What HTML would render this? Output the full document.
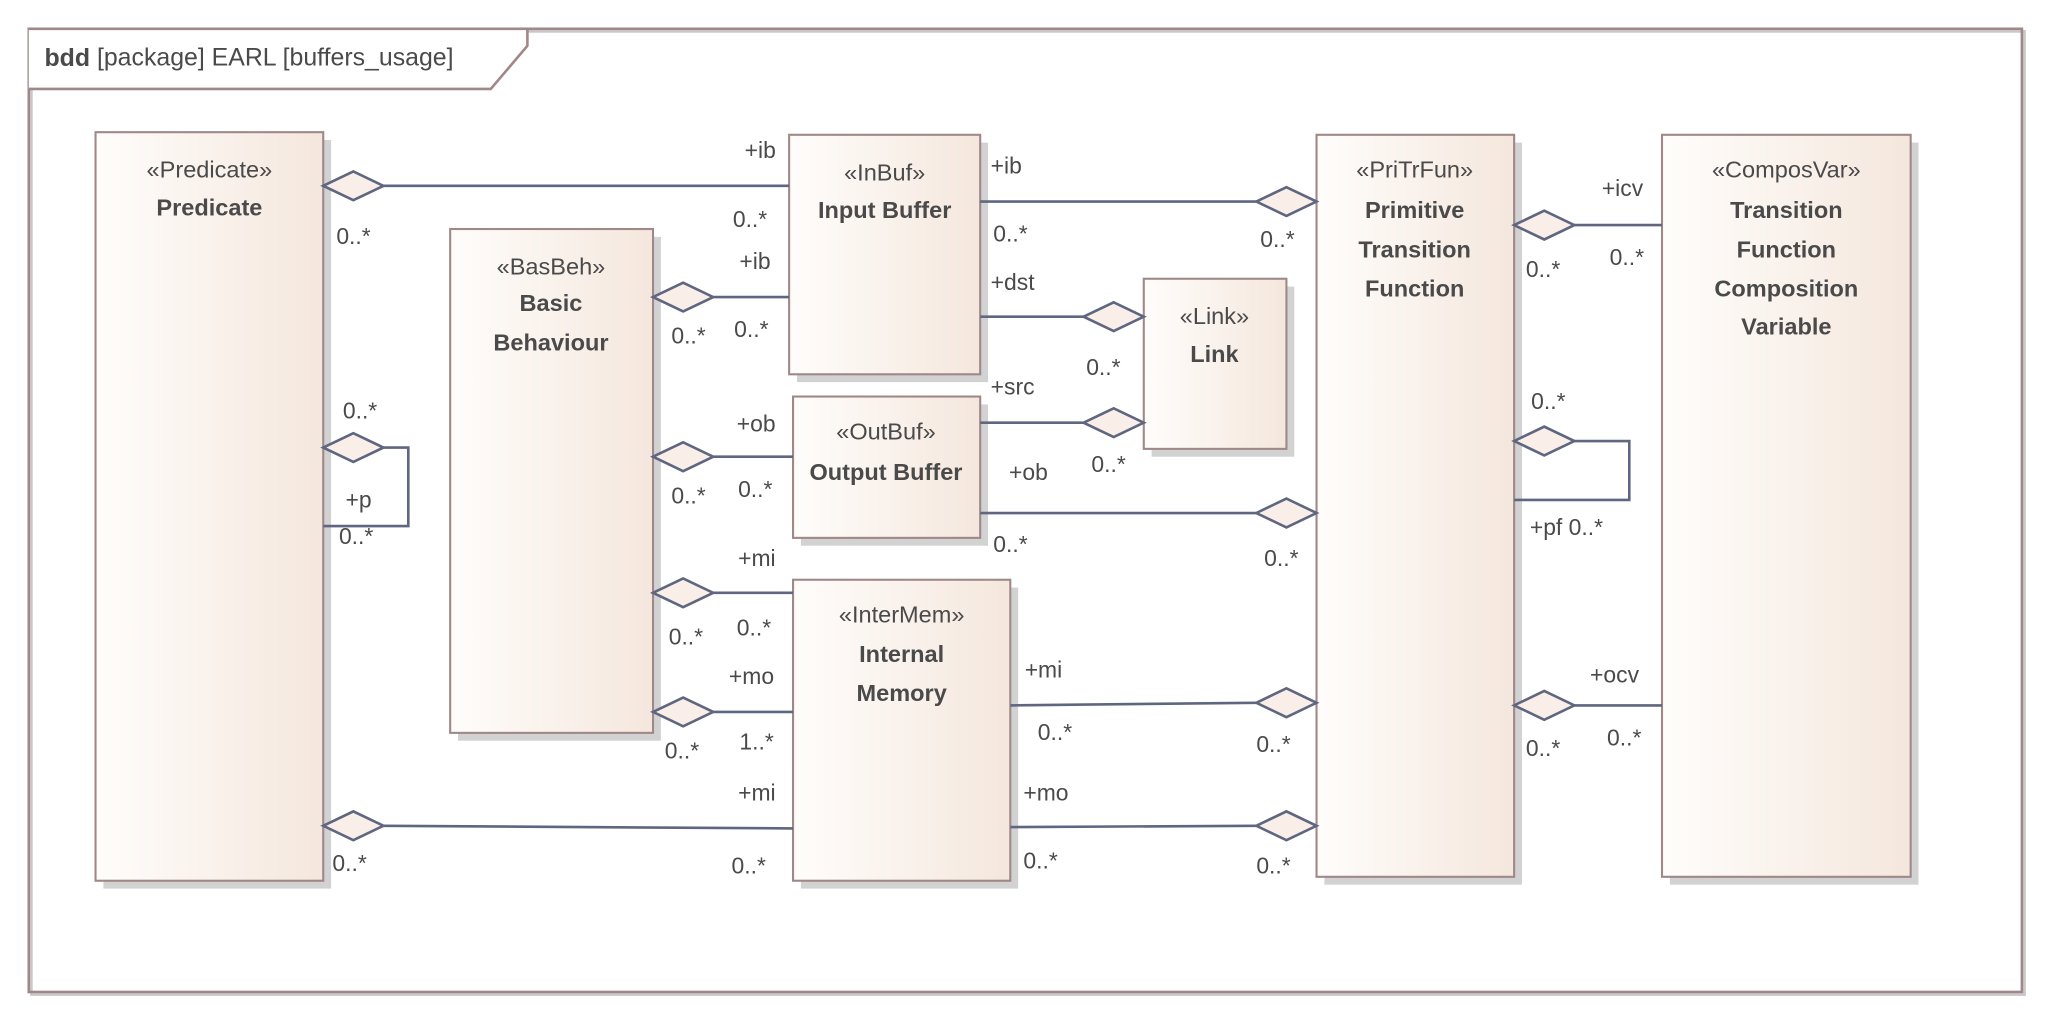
<!DOCTYPE html>
<html><head><meta charset="utf-8"><style>
html,body{margin:0;padding:0;background:#fff;}
svg{display:block}
text{font-family:"Liberation Sans",sans-serif;fill:#4a4a4a;}
.l{font-size:17.5px;dominant-baseline:middle}
.s{font-size:18px;text-anchor:middle;dominant-baseline:middle}
.n{font-size:18px;font-weight:bold;text-anchor:middle;dominant-baseline:middle}
.ln{stroke:#5f6680;stroke-width:2;fill:none}
.d{fill:#faefe8;stroke:#5f6680;stroke-width:2}
.b{fill:url(#g);stroke:#a08888;stroke-width:1.6}
.sh{fill:#d2d2d2}
</style></head><body>
<svg width="2052" height="1023" viewBox="0 0 1568 781.7" xmlns="http://www.w3.org/2000/svg">
<defs><linearGradient id="g" x1="0" x2="1" y1="0" y2="0"><stop offset="0" stop-color="#fffdfb"/><stop offset="1" stop-color="#f4e7dd"/></linearGradient></defs>
<rect x="0" y="0" width="1568" height="782" fill="#fff"/>
<rect x="24" y="24" width="1523" height="736" fill="none" stroke="#c8c8c8" stroke-width="2"/>
<rect x="22" y="22" width="1523" height="736" fill="none" stroke="#a08888" stroke-width="2"/>
<path d="M22 22 H403 V35 L375 68 H22" fill="#fff" stroke="#a08888" stroke-width="2"/>
<text x="34" y="45" style="font-size:19px;dominant-baseline:middle"><tspan font-weight="bold">bdd</tspan> [package] EARL [buffers_usage]</text>

<rect class="sh" x="79" y="107" width="174" height="572"/>
<rect class="sh" x="350" y="181" width="155" height="385"/>
<rect class="sh" x="609" y="109" width="146" height="183"/>
<rect class="sh" x="612" y="309" width="143" height="108"/>
<rect class="sh" x="612" y="449" width="166" height="230"/>
<rect class="sh" x="880" y="219" width="109" height="130"/>
<rect class="sh" x="1012" y="109" width="151" height="567"/>
<rect class="sh" x="1276" y="109" width="190" height="567"/>

<rect class="b" x="73" y="101" width="174" height="572"/>
<text class="s" x="160" y="131">«Predicate»</text><text class="n" x="160" y="160">Predicate</text>
<rect class="b" x="344" y="175" width="155" height="385"/>
<text class="s" x="421" y="205">«BasBeh»</text><text class="n" x="421" y="233">Basic</text><text class="n" x="421" y="263">Behaviour</text>
<rect class="b" x="603" y="103" width="146" height="183"/>
<text class="s" x="676" y="133">«InBuf»</text><text class="n" x="676" y="162">Input Buffer</text>
<rect class="b" x="606" y="303" width="143" height="108"/>
<text class="s" x="677" y="331">«OutBuf»</text><text class="n" x="677" y="362">Output Buffer</text>
<rect class="b" x="606" y="443" width="166" height="230"/>
<text class="s" x="689" y="471">«InterMem»</text><text class="n" x="689" y="501">Internal</text><text class="n" x="689" y="531">Memory</text>
<rect class="b" x="874" y="213" width="109" height="130"/>
<text class="s" x="928" y="243">«Link»</text><text class="n" x="928" y="272">Link</text>
<rect class="b" x="1006" y="103" width="151" height="567"/>
<text class="s" x="1081" y="131">«PriTrFun»</text><text class="n" x="1081" y="162">Primitive</text><text class="n" x="1081" y="192">Transition</text><text class="n" x="1081" y="222">Function</text>
<rect class="b" x="1270" y="103" width="190" height="567"/>
<text class="s" x="1365" y="131">«ComposVar»</text><text class="n" x="1365" y="162">Transition</text><text class="n" x="1365" y="192">Function</text><text class="n" x="1365" y="222">Composition</text><text class="n" x="1365" y="251">Variable</text>

<path class="ln" d="M293 142 H603"/><path class="d" d="M247 142 L270 131 L293 142 L270 153Z"/>
<path class="ln" d="M545 227 H603"/><path class="d" d="M499 227 L522 216 L545 227 L522 238Z"/>
<path class="ln" d="M749 154 H960"/><path class="d" d="M960 154 L983 143 L1006 154 L983 165Z"/>
<path class="ln" d="M749 242 H828"/><path class="d" d="M828 242 L851 231 L874 242 L851 253Z"/>
<path class="ln" d="M749 323 H828"/><path class="d" d="M828 323 L851 312 L874 323 L851 334Z"/>
<path class="ln" d="M293 342 H312 V402 H247"/><path class="d" d="M247 342 L270 331 L293 342 L270 353Z"/>
<path class="ln" d="M545 349 H606"/><path class="d" d="M499 349 L522 338 L545 349 L522 360Z"/>
<path class="ln" d="M749 392 H960"/><path class="d" d="M960 392 L983 381 L1006 392 L983 403Z"/>
<path class="ln" d="M545 453 H606"/><path class="d" d="M499 453 L522 442 L545 453 L522 464Z"/>
<path class="ln" d="M545 544 H606"/><path class="d" d="M499 544 L522 533 L545 544 L522 555Z"/>
<path class="ln" d="M293 631 L606 633"/><path class="d" d="M247 631 L270 620 L293 631 L270 642Z"/>
<path class="ln" d="M772 539 L960 537"/><path class="d" d="M960 537 L983 526 L1006 537 L983 548Z"/>
<path class="ln" d="M772 632 L960 631"/><path class="d" d="M960 631 L983 620 L1006 631 L983 642Z"/>
<path class="ln" d="M1203 172 H1270"/><path class="d" d="M1157 172 L1180 161 L1203 172 L1180 183Z"/>
<path class="ln" d="M1203 337 H1245 V382 H1157"/><path class="d" d="M1157 337 L1180 326 L1203 337 L1180 348Z"/>
<path class="ln" d="M1203 539 H1270"/><path class="d" d="M1157 539 L1180 528 L1203 539 L1180 550Z"/>

<text class="l" x="569" y="116">+ib</text><text class="l" x="560" y="169">0..*</text><text class="l" x="257" y="182">0..*</text>
<text class="l" x="565" y="201">+ib</text><text class="l" x="513" y="258">0..*</text><text class="l" x="561" y="253">0..*</text>
<text class="l" x="757" y="128">+ib</text><text class="l" x="759" y="180">0..*</text><text class="l" x="963" y="184">0..*</text>
<text class="l" x="757" y="217">+dst</text><text class="l" x="830" y="282">0..*</text>
<text class="l" x="757" y="297">+src</text><text class="l" x="834" y="356">0..*</text>
<text class="l" x="262" y="315">0..*</text><text class="l" x="264" y="383">+p</text><text class="l" x="259" y="411">0..*</text>
<text class="l" x="563" y="325">+ob</text><text class="l" x="513" y="380">0..*</text><text class="l" x="564" y="375">0..*</text>
<text class="l" x="771" y="362">+ob</text><text class="l" x="759" y="417">0..*</text><text class="l" x="966" y="428">0..*</text>
<text class="l" x="564" y="428">+mi</text><text class="l" x="511" y="488">0..*</text><text class="l" x="563" y="481">0..*</text>
<text class="l" x="557" y="518">+mo</text><text class="l" x="508" y="575">0..*</text><text class="l" x="565" y="568">1..*</text>
<text class="l" x="564" y="607">+mi</text><text class="l" x="254" y="661">0..*</text><text class="l" x="559" y="663">0..*</text>
<text class="l" x="783" y="513">+mi</text><text class="l" x="793" y="561">0..*</text><text class="l" x="960" y="570">0..*</text>
<text class="l" x="782" y="607">+mo</text><text class="l" x="782" y="659">0..*</text><text class="l" x="960" y="663">0..*</text>
<text class="l" x="1224" y="145">+icv</text><text class="l" x="1166" y="207">0..*</text><text class="l" x="1230" y="198">0..*</text>
<text class="l" x="1170" y="308">0..*</text><text class="l" x="1169" y="404">+pf 0..*</text>
<text class="l" x="1215" y="517">+ocv</text><text class="l" x="1166" y="573">0..*</text><text class="l" x="1228" y="565">0..*</text>
</svg>
</body></html>
